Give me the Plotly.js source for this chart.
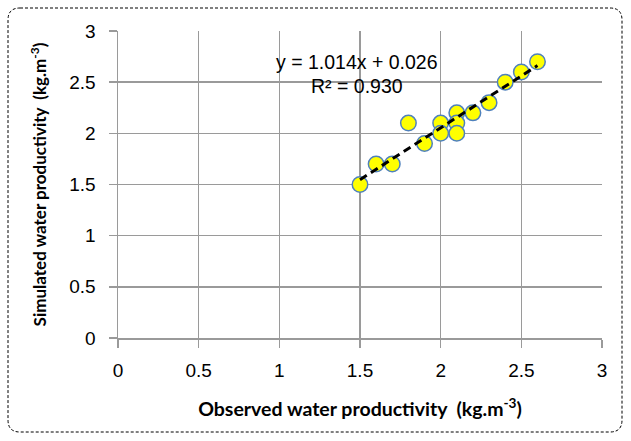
<!DOCTYPE html>
<html><head><meta charset="utf-8">
<script src="https://cdn.plot.ly/plotly-3.0.1.min.js"></script>
<style>html,body{margin:0;padding:0;background:#fff}#chart{width:631px;height:441px}</style>
</head><body><div id="chart"></div>
<script>
const observed  = [1.5, 1.6, 1.7, 1.8, 1.9, 2.0, 2.0, 2.1, 2.1, 2.1, 2.2, 2.3, 2.4, 2.5, 2.6];
const simulated = [1.5, 1.7, 1.7, 2.1, 1.9, 2.1, 2.0, 2.2, 2.1, 2.0, 2.2, 2.3, 2.5, 2.6, 2.7];
const slope = 1.014, intercept = 0.026, r2 = 0.930;
const tickVals = [0, 0.5, 1, 1.5, 2, 2.5, 3];
const tickText = ['0', '0.5', '1', '1.5', '2', '2.5', '3'];

const xMin = Math.min(...observed), xMax = Math.max(...observed);
const trendX = [xMin, xMax];
const trendY = trendX.map(v => slope * v + intercept);

const data = [
  {x: observed, y: simulated, type: 'scatter', mode: 'markers',
   marker: {size: 15.5, color: '#FFFF00', line: {color: '#4F81BD', width: 1.5}},
   hoverinfo: 'x+y', showlegend: false},
  {x: trendX, y: trendY, type: 'scatter', mode: 'lines',
   line: {color: '#000', width: 3, dash: '8px,5px'}, showlegend: false}
];

const W = 484, H = 307;
const px = v => v / W, py = v => v / H;
const x0 = px(8 - 118), x1 = px(622 - 118), y1 = py(338 - 8), y0 = py(338 - 432);
const rx = px(12), ry = py(12);
const path = `M ${x0 + rx} ${y1} L ${x1 - rx} ${y1} Q ${x1} ${y1} ${x1} ${y1 - ry} L ${x1} ${y0 + ry} Q ${x1} ${y0} ${x1 - rx} ${y0} L ${x0 + rx} ${y0} Q ${x0} ${y0} ${x0} ${y0 + ry} L ${x0} ${y1 - ry} Q ${x0} ${y1} ${x0 + rx} ${y1} Z`;

const tickFont = {family: 'Liberation Sans, Arial, sans-serif', size: 19, color: '#000'};
const axisCommon = {
  range: [0, 3], tickvals: tickVals, ticktext: tickText,
  showgrid: true, gridcolor: '#9A9A9A', gridwidth: 1.5,
  showline: true, linecolor: '#9A9A9A', linewidth: 1.5,
  ticks: 'outside', ticklen: 8, tickcolor: '#9A9A9A', tickwidth: 1.5,
  zeroline: false, fixedrange: true, tickfont: tickFont
};

const layout = {
  width: 631, height: 441,
  margin: {l: 118, r: 29, t: 31, b: 103},
  paper_bgcolor: '#fff', plot_bgcolor: '#fff',
  xaxis: Object.assign({}, axisCommon, {
    ticklabelstandoff: 7,
    title: {text: 'Observed water productivity  (kg.m<sup>-3</sup>)', standoff: 22,
            font: {family: 'Lato, sans-serif', size: 19.5, color: '#000', weight: 'bold'}}
  }),
  yaxis: Object.assign({}, axisCommon, {
    ticklabelstandoff: 9,
    title: {text: 'Simulated water productivity  (kg.m<sup>-3</sup>)', standoff: 18,
            font: {family: 'Lato, sans-serif', size: 17, color: '#000', weight: 'bold'}}
  }),
  annotations: [
    {xref: 'x', yref: 'y', x: 1.48, y: 2.7, text: `y = ${slope.toFixed(3)}x + ${intercept.toFixed(3)}`,
     showarrow: false, font: {family: 'Liberation Sans, Arial, sans-serif', size: 19.5, color: '#000'}},
    {xref: 'x', yref: 'y', x: 1.48, y: 2.46, text: `R² = ${r2.toFixed(3)}`,
     showarrow: false, font: {family: 'Liberation Sans, Arial, sans-serif', size: 19.5, color: '#000'}}
  ],
  shapes: [
    {type: 'path', xref: 'paper', yref: 'paper', path: path,
     line: {color: '#000', width: 1, dash: '3px,2px'}, layer: 'above'}
  ]
};

Plotly.newPlot('chart', data, layout, {displayModeBar: false, staticPlot: true});
</script></body></html>
